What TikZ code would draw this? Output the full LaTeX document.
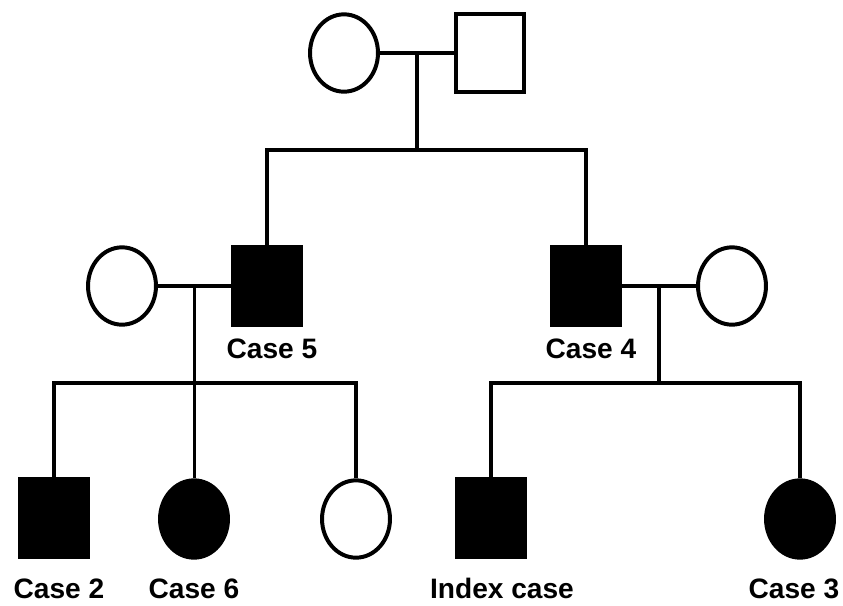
\documentclass[tikz,border=0pt]{standalone}
\usepackage{fontspec}
\setmainfont{Liberation Sans}
\usetikzlibrary{shapes.geometric,calc}

\begin{document}
\begin{tikzpicture}[x=0.03cm,y=-0.03cm,line width=3.4pt,
    male/.style={draw,rectangle,minimum width=58pt,minimum height=66pt,inner sep=0pt},
    female/.style={draw,ellipse,minimum width=58pt,minimum height=66pt,inner sep=0pt},
    affected/.style={fill=black},
    lbl/.style={font=\bfseries\fontsize{24}{28}\selectfont,anchor=base,inner sep=0pt}]
  \useasboundingbox (0,0) rectangle (843,605);
  % first generation
  \node[female] (gm) at (344,53) {};
  \node[male] (gf) at (490,53) {};
  % second generation
  \node[female] (w1) at (122,286) {};
  \node[male,affected] (c5) at (267,286) {};
  \node[male,affected] (c4) at (586,286) {};
  \node[female] (w2) at (732,286) {};
  % third generation
  \node[male,affected] (c2) at (54,518) {};
  \node[female,affected] (c6) at (194,519) {};
  \node[female] (d1) at (356,519) {};
  \node[male,affected] (ix) at (491,518) {};
  \node[female,affected] (c3) at (800,519) {};
  % labels
  \node[lbl] (l5) at (272,358) {Case 5};
  \node[lbl] (l4) at (591,358) {Case 4};
  \node[lbl] (l2) at (59,598) {Case 2};
  \node[lbl] (l6) at (194,598) {Case 6};
  \node[lbl] (lx) at (502,598) {Index case};
  \node[lbl] (l3) at (794,598) {Case 3};
  % unions
  \draw (gm) -- (gf);
  \coordinate (u1) at ($(gm.east)!0.5!(gf.west)$);
  \draw (w1) -- (c5);
  \coordinate (u2) at ($(w1.east)!0.5!(c5.west)$);
  \draw (c4) -- (w2);
  \coordinate (u3) at ($(c4.east)!0.5!(w2.west)$);
  % sibships
  \coordinate (s1) at ($(u1)+(0,97)$);
  \draw (u1) -- (s1);
  \draw (c5.north) |- (s1) -| (c4.north);
  \coordinate (s2) at ($(u2)+(0,97)$);
  \draw (u2) -- (u2 |- c6.north);
  \draw (c2.north) |- (s2) -| (d1.north);
  \coordinate (s3) at ($(u3)+(0,97)$);
  \draw (u3) -- (s3);
  \draw (ix.north) |- (s3) -| (c3.north);
\end{tikzpicture}
\end{document}
